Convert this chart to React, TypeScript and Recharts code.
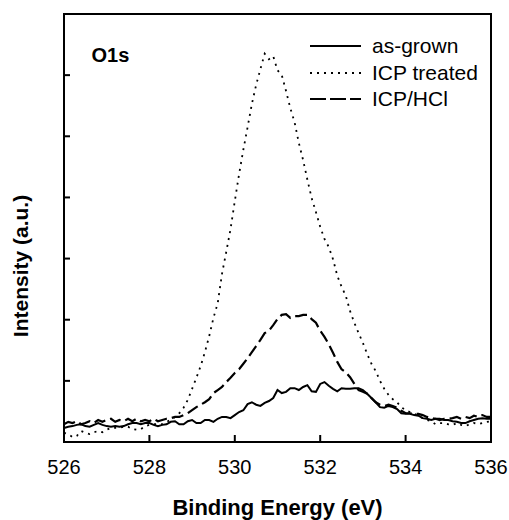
import { LineChart, Line, XAxis, YAxis, ReferenceArea, Label } from 'recharts';

// binding energy grid (eV)
const energy = [
  526.0, 526.1, 526.2, 526.3, 526.4, 526.5, 526.6, 526.7, 526.8, 526.9,
  527.0, 527.1, 527.2, 527.3, 527.4, 527.5, 527.6, 527.7, 527.8, 527.9,
  528.0, 528.1, 528.2, 528.3, 528.4, 528.5, 528.6, 528.7, 528.8, 528.9,
  529.0, 529.1, 529.2, 529.3, 529.4, 529.5, 529.6, 529.7, 529.8, 529.9,
  530.0, 530.1, 530.2, 530.3, 530.4, 530.5, 530.6, 530.7, 530.8, 530.9,
  531.0, 531.1, 531.2, 531.3, 531.4, 531.5, 531.6, 531.7, 531.8, 531.9,
  532.0, 532.1, 532.2, 532.3, 532.4, 532.5, 532.6, 532.7, 532.8, 532.9,
  533.0, 533.1, 533.2, 533.3, 533.4, 533.5, 533.6, 533.7, 533.8, 533.9,
  534.0, 534.1, 534.2, 534.3, 534.4, 534.5, 534.6, 534.7, 534.8, 534.9,
  535.0, 535.1, 535.2, 535.3, 535.4, 535.5, 535.6, 535.7, 535.8, 535.9,
  536.0,
];

// intensities (a.u.)
const asGrown = [
  0.23, 0.25, 0.26, 0.28, 0.29, 0.26, 0.25, 0.28, 0.31, 0.28,
  0.26, 0.25, 0.26, 0.25, 0.26, 0.29, 0.31, 0.31, 0.29, 0.31,
  0.31, 0.28, 0.26, 0.28, 0.29, 0.33, 0.34, 0.29, 0.29, 0.34,
  0.36, 0.31, 0.31, 0.36, 0.36, 0.33, 0.38, 0.41, 0.41, 0.39,
  0.44, 0.49, 0.52, 0.62, 0.65, 0.61, 0.59, 0.64, 0.67, 0.72,
  0.85, 0.80, 0.82, 0.88, 0.88, 0.85, 0.90, 0.93, 0.83, 0.82,
  0.95, 0.98, 0.92, 0.87, 0.83, 0.88, 0.87, 0.87, 0.88, 0.88,
  0.85, 0.79, 0.72, 0.65, 0.57, 0.56, 0.59, 0.57, 0.54, 0.47,
  0.46, 0.46, 0.44, 0.43, 0.39, 0.38, 0.36, 0.38, 0.38, 0.36,
  0.36, 0.34, 0.33, 0.31, 0.31, 0.34, 0.36, 0.38, 0.39, 0.38,
  0.38,
];

const icpTreated = [
  0.15, 0.13, 0.08, 0.10, 0.18, 0.15, 0.13, 0.16, 0.18, 0.16,
  0.20, 0.23, 0.23, 0.23, 0.25, 0.25, 0.21, 0.20, 0.21, 0.26,
  0.28, 0.29, 0.29, 0.29, 0.33, 0.36, 0.41, 0.47, 0.56, 0.69,
  0.87, 1.05, 1.24, 1.47, 1.73, 2.03, 2.27, 2.75, 3.11, 3.48,
  3.94, 4.38, 4.78, 5.15, 5.53, 5.84, 6.10, 6.35, 6.26, 6.31,
  6.08, 6.00, 5.74, 5.46, 5.23, 4.89, 4.61, 4.29, 3.99, 3.76,
  3.52, 3.32, 3.19, 2.99, 2.72, 2.54, 2.39, 2.14, 1.95, 1.78,
  1.62, 1.44, 1.28, 1.16, 1.00, 0.87, 0.77, 0.70, 0.65, 0.57,
  0.52, 0.49, 0.46, 0.43, 0.39, 0.36, 0.34, 0.29, 0.31, 0.31,
  0.29, 0.28, 0.31, 0.28, 0.26, 0.29, 0.31, 0.29, 0.31, 0.33,
  0.34,
];

const icpHcl = [
  0.29, 0.33, 0.31, 0.34, 0.29, 0.31, 0.34, 0.31, 0.36, 0.33,
  0.36, 0.38, 0.33, 0.36, 0.34, 0.38, 0.34, 0.38, 0.34, 0.36,
  0.34, 0.38, 0.34, 0.36, 0.38, 0.39, 0.41, 0.41, 0.44, 0.47,
  0.52, 0.57, 0.61, 0.65, 0.70, 0.80, 0.85, 0.90, 0.98, 1.05,
  1.13, 1.19, 1.28, 1.37, 1.47, 1.57, 1.67, 1.78, 1.82, 1.91,
  2.01, 2.08, 2.09, 2.03, 2.06, 2.06, 2.08, 2.08, 2.01, 1.95,
  1.82, 1.72, 1.60, 1.46, 1.31, 1.19, 1.14, 1.06, 0.95, 0.85,
  0.82, 0.79, 0.72, 0.65, 0.61, 0.59, 0.61, 0.59, 0.56, 0.51,
  0.47, 0.47, 0.46, 0.46, 0.44, 0.41, 0.39, 0.38, 0.36, 0.38,
  0.38, 0.39, 0.41, 0.38, 0.41, 0.39, 0.43, 0.41, 0.44, 0.41,
  0.41,
];

const xTicks = [526, 528, 530, 532, 534, 536];
const yTicks = [0, 1, 2, 3, 4, 5, 6, 7];

const seriesNames = ['as-grown', 'ICP treated', 'ICP/HCl'];
const seriesDash = ['', '2 5', '12 5'];

const data = energy.map((e, i) => ({
  energy: e,
  asGrown: asGrown[i],
  icpTreated: icpTreated[i],
  icpHcl: icpHcl[i],
}));

const FONT = '"Liberation Sans", Arial, Helvetica, sans-serif';

// ticks point into the plot, labels sit below the frame
const XTick = (props: any) => {
  const { x, y, payload } = props;
  return (
    <g>
      <line x1={x} y1={y} x2={x} y2={y - 7} stroke="#000" strokeWidth={2} />
      <text x={x} y={y + 32} textAnchor="middle" fontFamily={FONT} fontSize={20} fill="#000">
        {payload.value}
      </text>
    </g>
  );
};

const YTick = (props: any) => {
  const { x, y } = props;
  return <line x1={x} y1={y} x2={x + 6} y2={y} stroke="#000" strokeWidth={2} />;
};

function LegendBox() {
  return (
    <div style={{ position: 'absolute', left: 310, top: 33, fontFamily: FONT, fontSize: 21, color: '#000' }}>
      {seriesNames.map((name, i) => (
        <div key={name} style={{ display: 'flex', alignItems: 'center', height: 26.5 }}>
          <svg width={51} height={6} style={{ display: 'block' }}>
            <line x1={0} y1={3} x2={51} y2={3} stroke="#000" strokeWidth={i === 1 ? 1.8 : 2.2}
              strokeDasharray={i === 2 ? '16 4' : seriesDash[i] || undefined} />
          </svg>
          <span style={{ marginLeft: 11, lineHeight: '26.5px' }}>{name}</span>
        </div>
      ))}
    </div>
  );
}

export default function App() {
  return (
    <div style={{ position: 'absolute', left: 0, top: 0, width: 509, height: 520, background: '#fff' }}>
      <LineChart width={509} height={520} data={data} margin={{ top: 14, right: 18, left: 0, bottom: 0 }}>
        <XAxis
          dataKey="energy"
          type="number"
          domain={[526, 536]}
          ticks={xTicks}
          height={78}
          axisLine={false}
          tickLine={false}
          tickSize={0}
          tickMargin={0}
          tick={<XTick />}
          interval={0}
        >
          <Label
            content={() => (
              <text x={277.5} y={515} textAnchor="middle" fontFamily={FONT} fontSize={22} fontWeight="bold" fill="#000">
                Binding Energy (eV)
              </text>
            )}
          />
        </XAxis>
        <YAxis
          type="number"
          domain={[0, 7]}
          ticks={yTicks}
          width={64}
          axisLine={false}
          tickLine={false}
          tickSize={0}
          tickMargin={0}
          tick={<YTick />}
          interval={0}
        >
          <Label
            content={() => (
              <text x={28} y={266} transform="rotate(-90 28 266)" textAnchor="middle" fontFamily={FONT} fontSize={21} fontWeight="bold" fill="#000">
                Intensity (a.u.)
              </text>
            )}
          />
        </YAxis>
        <ReferenceArea x1={526} x2={536} y1={0} y2={7} fill="none" stroke="#000" strokeWidth={2} />
        <Line type="linear" dataKey="asGrown" stroke="#000" strokeWidth={2} dot={false} isAnimationActive={false} />
        <Line type="linear" dataKey="icpTreated" stroke="#000" strokeWidth={1.8} strokeDasharray={seriesDash[1]} dot={false} isAnimationActive={false} />
        <Line type="linear" dataKey="icpHcl" stroke="#000" strokeWidth={2.2} strokeDasharray={seriesDash[2]} dot={false} isAnimationActive={false} />
      </LineChart>
      <div style={{ position: 'absolute', left: 91.5, top: 44, fontFamily: FONT, fontSize: 20, fontWeight: 'bold', color: '#000' }}>
        O1s
      </div>
      <LegendBox />
    </div>
  );
}
